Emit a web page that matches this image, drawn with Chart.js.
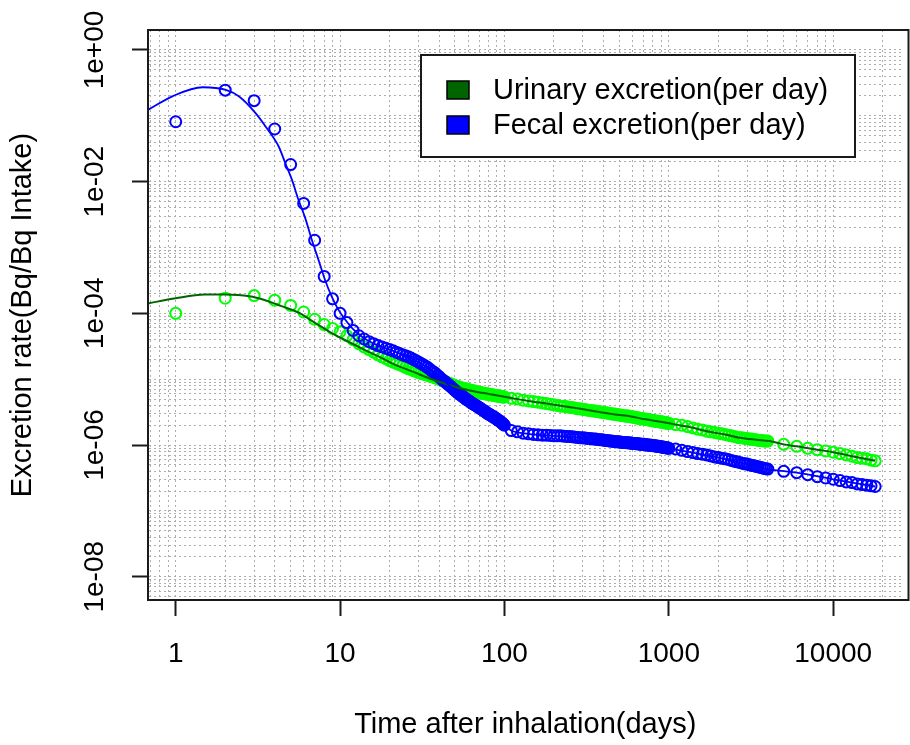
<!DOCTYPE html>
<html>
<head>
<meta charset="utf-8">
<script src="https://cdn.jsdelivr.net/npm/chart.js@4.4.1/dist/chart.umd.min.js"></script>
<style>
  html, body { margin: 0; padding: 0; background: #fff; }
  canvas { display: block; }
</style>
</head>
<body>
<canvas id="excretionChart" width="910" height="745"></canvas>
<script>
// sampling days of the observed points
const days = [
  1, 2, 3, 4, 5, 6, 7, 8, 9, 10,
  11, 12, 13, 14, 15, 16, 17, 18, 19, 20,
  21, 22, 23, 24, 25, 26, 27, 28, 29, 30,
  31, 32, 33, 34, 35, 36, 37, 38, 39, 40,
  41, 42, 43, 44, 45, 46, 47, 48, 49, 50,
  51, 52, 53, 54, 55, 56, 57, 58, 59, 60,
  61, 62, 63, 64, 65, 66, 67, 68, 69, 70,
  71, 72, 73, 74, 75, 76, 77, 78, 79, 80,
  81, 82, 83, 84, 85, 86, 87, 88, 89, 90,
  91, 92, 93, 94, 95, 96, 97, 98, 99, 100,
  110, 120, 130, 140, 150, 160, 170, 180, 190, 200,
  210, 220, 230, 240, 250, 260, 270, 280, 290, 300,
  310, 320, 330, 340, 350, 360, 370, 380, 390, 400,
  410, 420, 430, 440, 450, 460, 470, 480, 490, 500,
  510, 520, 530, 540, 550, 560, 570, 580, 590, 600,
  610, 620, 630, 640, 650, 660, 670, 680, 690, 700,
  710, 720, 730, 740, 750, 760, 770, 780, 790, 800,
  810, 820, 830, 840, 850, 860, 870, 880, 890, 900,
  910, 920, 930, 940, 950, 960, 970, 980, 990, 1000,
  1100, 1200, 1300, 1400, 1500, 1600, 1700, 1800, 1900, 2000,
  2100, 2200, 2300, 2400, 2500, 2600, 2700, 2800, 2900, 3000,
  3100, 3200, 3300, 3400, 3500, 3600, 3700, 3800, 3900, 4000,
  5000, 6000, 7000, 8000, 9000, 10000, 11000, 12000, 13000, 14000, 15000, 16000, 17000, 18000
];

const urinaryLog10 = [
  -4.00, -3.77, -3.73, -3.80, -3.88, -3.98, -4.09, -4.17, -4.23, -4.28,
  -4.34, -4.40, -4.46, -4.51, -4.55, -4.59, -4.63, -4.66, -4.69, -4.72,
  -4.74, -4.76, -4.78, -4.80, -4.82, -4.84, -4.85, -4.87, -4.88, -4.90,
  -4.91, -4.92, -4.93, -4.94, -4.95, -4.96, -4.97, -4.98, -4.99, -5.00,
  -5.01, -5.02, -5.03, -5.04, -5.05, -5.06, -5.07, -5.08, -5.09, -5.10,
  -5.11, -5.11, -5.12, -5.13, -5.13, -5.14, -5.14, -5.15, -5.15, -5.16,
  -5.16, -5.17, -5.17, -5.18, -5.18, -5.18, -5.19, -5.19, -5.20, -5.20,
  -5.20, -5.21, -5.21, -5.21, -5.22, -5.22, -5.22, -5.22, -5.23, -5.23,
  -5.23, -5.23, -5.24, -5.24, -5.24, -5.24, -5.25, -5.25, -5.25, -5.25,
  -5.25, -5.26, -5.26, -5.26, -5.26, -5.26, -5.27, -5.27, -5.27, -5.27,
  -5.29, -5.30, -5.32, -5.33, -5.34, -5.35, -5.36, -5.37, -5.38, -5.39,
  -5.40, -5.41, -5.41, -5.42, -5.43, -5.43, -5.44, -5.45, -5.45, -5.46,
  -5.46, -5.47, -5.47, -5.48, -5.48, -5.49, -5.49, -5.50, -5.50, -5.51,
  -5.51, -5.51, -5.52, -5.52, -5.53, -5.53, -5.53, -5.54, -5.54, -5.54,
  -5.55, -5.55, -5.55, -5.56, -5.56, -5.56, -5.56, -5.57, -5.57, -5.57,
  -5.58, -5.58, -5.58, -5.59, -5.59, -5.59, -5.60, -5.60, -5.60, -5.60,
  -5.61, -5.61, -5.61, -5.61, -5.62, -5.62, -5.62, -5.62, -5.63, -5.63,
  -5.63, -5.63, -5.64, -5.64, -5.64, -5.64, -5.64, -5.65, -5.65, -5.65,
  -5.65, -5.65, -5.66, -5.66, -5.66, -5.66, -5.66, -5.67, -5.67, -5.67,
  -5.69, -5.70, -5.72, -5.74, -5.76, -5.77, -5.79, -5.80, -5.81, -5.82,
  -5.83, -5.84, -5.85, -5.86, -5.87, -5.88, -5.89, -5.89, -5.90, -5.90,
  -5.91, -5.91, -5.92, -5.92, -5.93, -5.93, -5.93, -5.94, -5.94, -5.94,
  -5.99, -6.02, -6.05, -6.07, -6.09, -6.11, -6.13, -6.15, -6.17, -6.19, -6.20, -6.21, -6.23, -6.24
];

const fecalLog10 = [
  -1.09, -0.61, -0.77, -1.20, -1.74, -2.33, -2.89, -3.44, -3.78, -4.00,
  -4.14, -4.26, -4.34, -4.39, -4.43, -4.46, -4.49, -4.51, -4.53, -4.55,
  -4.57, -4.59, -4.61, -4.63, -4.645, -4.66, -4.68, -4.70, -4.72, -4.74,
  -4.76, -4.78, -4.80, -4.82, -4.845, -4.87, -4.89, -4.91, -4.94, -4.96,
  -4.99, -5.01, -5.03, -5.05, -5.07, -5.09, -5.11, -5.13, -5.15, -5.17,
  -5.19, -5.21, -5.22, -5.24, -5.25, -5.27, -5.28, -5.30, -5.31, -5.32,
  -5.33, -5.35, -5.36, -5.37, -5.38, -5.39, -5.40, -5.41, -5.42, -5.43,
  -5.44, -5.45, -5.46, -5.47, -5.48, -5.49, -5.50, -5.51, -5.52, -5.53,
  -5.535, -5.54, -5.55, -5.56, -5.57, -5.575, -5.58, -5.59, -5.60, -5.61,
  -5.62, -5.625, -5.63, -5.64, -5.65, -5.66, -5.67, -5.68, -5.69, -5.70,
  -5.78, -5.80, -5.82, -5.83, -5.84, -5.845, -5.85, -5.85, -5.855, -5.86,
  -5.86, -5.86, -5.865, -5.87, -5.87, -5.875, -5.88, -5.885, -5.89, -5.89,
  -5.895, -5.90, -5.90, -5.905, -5.91, -5.91, -5.915, -5.92, -5.92, -5.925,
  -5.93, -5.93, -5.935, -5.94, -5.94, -5.945, -5.945, -5.95, -5.95, -5.955,
  -5.955, -5.96, -5.96, -5.96, -5.965, -5.965, -5.965, -5.97, -5.97, -5.975,
  -5.975, -5.975, -5.98, -5.98, -5.98, -5.985, -5.985, -5.99, -5.99, -5.99,
  -5.99, -5.995, -5.995, -6.00, -6.00, -6.00, -6.005, -6.005, -6.005, -6.01,
  -6.01, -6.01, -6.015, -6.015, -6.02, -6.02, -6.02, -6.025, -6.025, -6.03,
  -6.03, -6.03, -6.035, -6.035, -6.04, -6.04, -6.04, -6.045, -6.045, -6.05,
  -6.06, -6.08, -6.10, -6.115, -6.13, -6.14, -6.15, -6.165, -6.18, -6.19,
  -6.20, -6.21, -6.22, -6.235, -6.245, -6.255, -6.265, -6.275, -6.285, -6.29,
  -6.30, -6.31, -6.315, -6.325, -6.33, -6.34, -6.345, -6.355, -6.36, -6.365,
  -6.40, -6.42, -6.45, -6.48, -6.50, -6.52, -6.54, -6.56, -6.57, -6.59, -6.60, -6.61, -6.62, -6.63
];

// fitted model curves
const urinaryFitDays = [0.678, 1, 1.5, 2, 2.8, 3.5, 4.4, 5.6, 7, 8.9, 11, 14, 18, 22, 28, 35, 45, 56, 70, 89,
  110, 140, 180, 230, 290, 360, 450, 570, 720, 910, 1100, 1300, 1700, 2200, 2700, 3400, 4100, 5000, 6000, 8000,
  10000, 13000, 18000];
const urinaryFitLog10 = [-3.85, -3.77, -3.715, -3.715, -3.74, -3.80, -3.89, -3.99, -4.14, -4.30, -4.42, -4.55, -4.68, -4.79, -4.89, -4.99, -5.08, -5.15, -5.20, -5.245,
  -5.285, -5.33, -5.37, -5.41, -5.45, -5.49, -5.53, -5.56, -5.61, -5.65, -5.69, -5.72, -5.79, -5.84, -5.89, -5.92, -5.94, -5.99, -6.02, -6.07,
  -6.11, -6.17, -6.24];

const fecalFitDays = [0.678, 0.96, 1.46, 2.02, 2.43, 3.06, 3.52, 4.23, 4.64, 5.09, 5.58, 6.13, 6.72, 7.37, 8.09, 8.87, 9.73, 10.7, 12, 14,
  17, 20, 25, 30, 40, 50, 60, 70, 85, 100, 110, 140, 200, 300, 500, 800, 1000, 1400, 2000, 3000,
  4000, 6000, 10000, 18000];
const fecalFitLog10 = [-0.91, -0.70, -0.566, -0.607, -0.708, -0.96, -1.163, -1.466, -1.72, -1.97, -2.275, -2.55, -2.88, -3.18, -3.49, -3.74, -3.94, -4.09, -4.24, -4.38,
  -4.49, -4.55, -4.645, -4.74, -4.96, -5.17, -5.32, -5.43, -5.57, -5.70, -5.78, -5.83, -5.86, -5.89, -5.955, -6.01, -6.05, -6.115, -6.19, -6.29,
  -6.365, -6.42, -6.52, -6.63];

const seriesNames = ['Urinary excretion(per day)', 'Fecal excretion(per day)'];

const xMajorTicks = [1, 10, 100, 1000, 10000];
const xTickLabels = ['1', '10', '100', '1000', '10000'];
const yMajorTicks = [1, 1e-2, 1e-4, 1e-6, 1e-8];
const yTickLabels = ['1e+00', '1e-02', '1e-04', '1e-06', '1e-08'];

const FONT = '"Liberation Sans", Arial, Helvetica, sans-serif';
const GRID_COLOR = '#adadad';
const INK = '#1a1a1a';

const toPoints = (xs, logs) => xs.map((d, i) => ({ x: d, y: Math.pow(10, logs[i]) }));

// dotted grid at every 1..9 x 10^n inside the axis range
function logGrid(lo, hi) {
  const out = [];
  for (let e = Math.floor(Math.log10(lo)); e <= Math.ceil(Math.log10(hi)); e++) {
    for (let k = 1; k <= 9; k++) {
      const v = k * Math.pow(10, e);
      if (v >= lo && v <= hi) out.push(v);
    }
  }
  return out;
}

function majorIndex(v, majors) {
  return majors.findIndex(m => Math.abs(Math.log10(v) - Math.log10(m)) < 1e-6);
}

const xMin = 0.678, xMax = 26400;
const yMin = 4.43e-9, yMax = 2.01;

const boxPlugin = {
  id: 'plotBox',
  afterDatasetsDraw(chart) {
    const { ctx, chartArea: a } = chart;
    ctx.save();
    ctx.strokeStyle = INK;
    ctx.lineWidth = 2;
    ctx.strokeRect(a.left, a.top, a.right - a.left + 6, a.bottom - a.top);
    ctx.restore();
  }
};

const legendPlugin = {
  id: 'boxLegend',
  afterDraw(chart) {
    const { ctx } = chart;
    const items = [chart.data.datasets[3], chart.data.datasets[2]];
    ctx.save();
    ctx.fillStyle = '#fff';
    ctx.fillRect(421, 55, 434, 102);
    ctx.lineWidth = 2;
    ctx.strokeStyle = INK;
    ctx.strokeRect(421, 55, 434, 102);
    items.forEach((ds, i) => {
      const y = 90 + i * 35;
      ctx.fillStyle = ds.legendColor;
      ctx.fillRect(447, y - 9, 22, 18);
      ctx.lineWidth = 1.5;
      ctx.strokeStyle = '#000';
      ctx.strokeRect(447, y - 9, 22, 18);
      ctx.fillStyle = '#000';
      ctx.font = '29px ' + FONT;
      ctx.textBaseline = 'middle';
      ctx.textAlign = 'left';
      ctx.fillText(ds.label, 493, y + 1);
    });
    ctx.restore();
  }
};

new Chart(document.getElementById('excretionChart'), {
  type: 'scatter',
  data: {
    datasets: [
      {
        label: 'Fecal fit',
        type: 'line',
        data: toPoints(fecalFitDays, fecalFitLog10),
        borderColor: '#0000ff',
        borderWidth: 1.8,
        pointRadius: 0,
        fill: false,
        cubicInterpolationMode: 'monotone',
        order: 0
      },
      {
        label: 'Urinary fit',
        type: 'line',
        data: toPoints(urinaryFitDays, urinaryFitLog10),
        borderColor: '#006400',
        borderWidth: 2,
        pointRadius: 0,
        fill: false,
        cubicInterpolationMode: 'monotone',
        order: 1
      },
      {
        label: seriesNames[1],
        data: toPoints(days, fecalLog10),
        showLine: false,
        pointStyle: 'circle',
        pointRadius: 5.5,
        borderWidth: 2,
        borderColor: '#0000ff',
        backgroundColor: 'rgba(0,0,0,0)',
        legendColor: '#0000ff',
        order: 2
      },
      {
        label: seriesNames[0],
        data: toPoints(days, urinaryLog10),
        showLine: false,
        pointStyle: 'circle',
        pointRadius: 5.5,
        borderWidth: 2,
        borderColor: '#00ff00',
        backgroundColor: 'rgba(0,0,0,0)',
        legendColor: '#006400',
        order: 3
      }
    ]
  },
  options: {
    responsive: false,
    animation: false,
    devicePixelRatio: 1,
    events: [],
    layout: { padding: { top: 30, left: 0, right: 0, bottom: 0 } },
    plugins: {
      legend: { display: false },
      tooltip: { enabled: false }
    },
    scales: {
      x: {
        type: 'logarithmic',
        position: 'bottom',
        min: xMin,
        max: xMax,
        afterBuildTicks: s => { s.ticks = logGrid(xMin, xMax).map(v => ({ value: v })); },
        afterFit: s => { s.height = 145; },
        ticks: {
          autoSkip: false,
          minRotation: 0,
          maxRotation: 0,
          padding: 21,
          color: '#000',
          font: { family: FONT, size: 28 },
          callback: v => { const i = majorIndex(v, xMajorTicks); return i < 0 ? '' : xTickLabels[i]; }
        },
        grid: {
          color: GRID_COLOR,
          lineWidth: 1,
          tickLength: 16,
          tickWidth: 2,
          tickColor: c => majorIndex(c.tick.value, xMajorTicks) < 0 ? 'rgba(0,0,0,0)' : INK
        },
        border: { display: true, color: INK, width: 2, dash: [2, 3] },
        title: {
          display: true,
          text: 'Time after inhalation(days)',
          color: '#000',
          font: { family: FONT, size: 29 },
          padding: { top: 0, bottom: 3 }
        }
      },
      y: {
        type: 'logarithmic',
        position: 'left',
        min: yMin,
        max: yMax,
        afterBuildTicks: s => { s.ticks = logGrid(yMin, yMax).map(v => ({ value: v })); },
        afterFit: s => { s.width = 148; },
        ticks: {
          autoSkip: false,
          minRotation: 90,
          maxRotation: 90,
          crossAlign: 'center',
          padding: -3,
          color: '#000',
          font: { family: FONT, size: 28 },
          callback: v => { const i = majorIndex(v, yMajorTicks); return i < 0 ? '' : yTickLabels[i]; }
        },
        grid: {
          color: GRID_COLOR,
          lineWidth: 1,
          tickLength: 16,
          tickWidth: 2,
          tickColor: c => majorIndex(c.tick.value, yMajorTicks) < 0 ? 'rgba(0,0,0,0)' : INK
        },
        border: { display: true, color: INK, width: 2, dash: [2, 3] },
        title: {
          display: true,
          text: 'Excretion rate(Bq/Bq Intake)',
          color: '#000',
          font: { family: FONT, size: 29 },
          padding: { top: 6, bottom: 0 }
        }
      }
    }
  },
  plugins: [boxPlugin, legendPlugin]
});
</script>
</body>
</html>
